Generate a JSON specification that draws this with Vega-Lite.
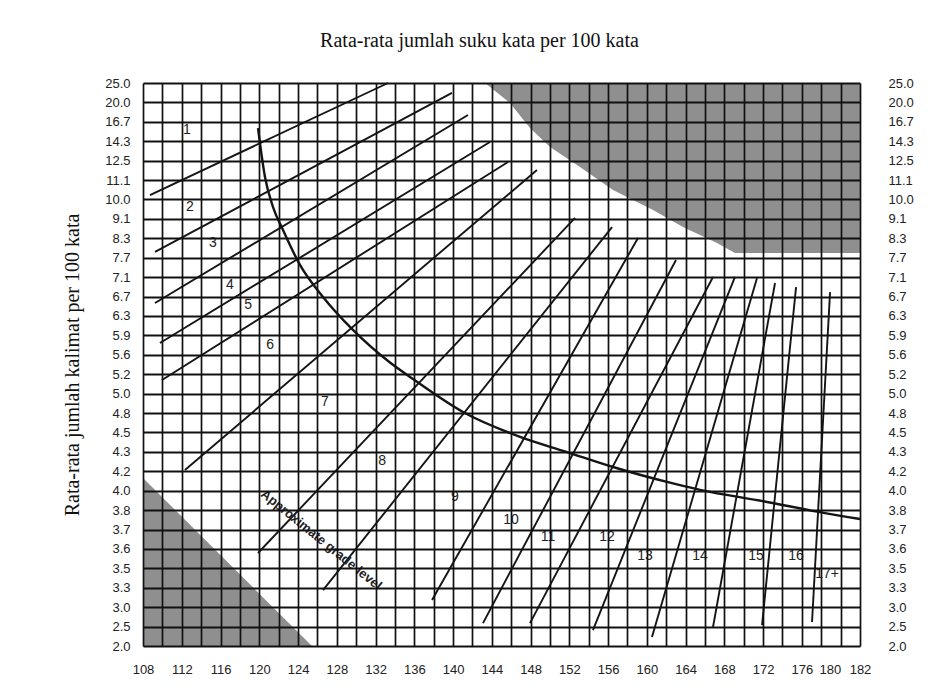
{
  "$schema": "https://vega.github.io/schema/vega-lite/v6.json",
  "autosize": {"type": "none"},
  "width": 717,
  "height": 563,
  "padding": {"left": 143, "top": 83, "right": 87, "bottom": 53},
  "background": "white",
  "title": {"text": "Rata-rata jumlah suku kata per 100 kata", "font": "Liberation Serif", "fontSize": 20, "fontWeight": "normal", "color": "#111", "offset": 26, "dx": -22, "anchor": "middle"},
  "config": {"view": {"stroke": null}},
  "datasets": {
    "lines": [
      {"g": "L1", "x": 108.72, "y": 23.23}, {"g": "L1", "x": 133.29, "y": 29.0},
      {"g": "L2", "x": 109.24, "y": 20.30}, {"g": "L2", "x": 139.89, "y": 28.49},
      {"g": "L3", "x": 109.24, "y": 17.67}, {"g": "L3", "x": 141.54, "y": 27.35},
      {"g": "L4", "x": 109.75, "y": 15.61}, {"g": "L4", "x": 143.81, "y": 25.96},
      {"g": "L5", "x": 109.96, "y": 13.70}, {"g": "L5", "x": 145.67, "y": 24.93},
      {"g": "L6", "x": 112.33, "y": 9.07}, {"g": "L6", "x": 148.66, "y": 24.52},
      {"g": "L7", "x": 119.87, "y": 4.79}, {"g": "L7", "x": 152.59, "y": 22.05},
      {"g": "L8", "x": 126.58, "y": 2.88}, {"g": "L8", "x": 156.41, "y": 21.58},
      {"g": "L9", "x": 137.83, "y": 2.37}, {"g": "L9", "x": 159.09, "y": 21.02},
      {"g": "L10", "x": 143.09, "y": 1.18}, {"g": "L10", "x": 163.01, "y": 19.88},
      {"g": "L11", "x": 147.94, "y": 1.18}, {"g": "L11", "x": 166.83, "y": 19.01},
      {"g": "L12", "x": 154.44, "y": 0.82}, {"g": "L12", "x": 169.10, "y": 19.01},
      {"g": "L13", "x": 160.53, "y": 0.46}, {"g": "L13", "x": 171.37, "y": 18.96},
      {"g": "L14", "x": 166.83, "y": 0.98}, {"g": "L14", "x": 173.23, "y": 18.70},
      {"g": "L15", "x": 171.89, "y": 1.08}, {"g": "L15", "x": 175.40, "y": 18.49},
      {"g": "L16", "x": 177.05, "y": 1.24}, {"g": "L16", "x": 178.91, "y": 18.23}
    ],
    "curve": [
      {"x": 119.87, "y": 26.68}, {"x": 120.59, "y": 24.16}, {"x": 121.42, "y": 22.61},
      {"x": 122.45, "y": 21.43}, {"x": 124.20, "y": 19.63}, {"x": 126.58, "y": 17.98},
      {"x": 129.67, "y": 16.28}, {"x": 133.49, "y": 14.60}, {"x": 135.87, "y": 13.75},
      {"x": 141.03, "y": 12.05}, {"x": 146.91, "y": 10.77}, {"x": 151.76, "y": 9.99},
      {"x": 156.51, "y": 9.22}, {"x": 162.08, "y": 8.45}, {"x": 165.49, "y": 8.04},
      {"x": 172.40, "y": 7.42}, {"x": 177.56, "y": 6.92}, {"x": 182.0, "y": 6.54}
    ],
    "hatchTop": [
      {"x": 143.30, "y": 29.0}, {"x": 145.88, "y": 27.97}, {"x": 147.94, "y": 26.68},
      {"x": 150.01, "y": 25.70}, {"x": 153.10, "y": 24.67}, {"x": 156.51, "y": 23.49},
      {"x": 160.64, "y": 22.46}, {"x": 163.73, "y": 21.58}, {"x": 167.24, "y": 20.76},
      {"x": 169.10, "y": 20.24}, {"x": 182.0, "y": 20.24}
    ],
    "hatchBottom": [
      {"x": 108.0, "y": 8.65}, {"x": 125.44, "y": 0.0}
    ],
    "labels": [
      {"t": "1", "x": 112.54, "y": 26.58}, {"t": "2", "x": 112.85, "y": 22.61},
      {"t": "3", "x": 115.22, "y": 20.76}, {"t": "4", "x": 116.98, "y": 18.60},
      {"t": "5", "x": 118.84, "y": 17.56}, {"t": "6", "x": 121.11, "y": 15.50},
      {"t": "7", "x": 126.78, "y": 12.57}, {"t": "8", "x": 132.67, "y": 9.53},
      {"t": "9", "x": 140.20, "y": 7.67}, {"t": "10", "x": 145.98, "y": 6.49},
      {"t": "11", "x": 149.80, "y": 5.61}, {"t": "12", "x": 155.89, "y": 5.61},
      {"t": "13", "x": 159.81, "y": 4.64}, {"t": "14", "x": 165.49, "y": 4.64},
      {"t": "15", "x": 171.27, "y": 4.64}, {"t": "16", "x": 175.40, "y": 4.64},
      {"t": "17+", "x": 178.60, "y": 3.71}
    ],
    "note": [
      {"t": "Approximate grade level", "x": 126.4, "y": 5.46}
    ]
  },
  "layer": [
    {
      "encoding": {
        "x": {"field": "x", "type": "quantitative", "scale": {"domain": [108, 182], "nice": false, "zero": false},
          "axis": {"values": [108,110,112,114,116,118,120,122,124,126,128,130,132,134,136,138,140,142,144,146,148,150,152,154,156,158,160,162,164,166,168,170,172,174,176,178,180,182],
            "labelExpr": "(datum.value % 4 == 0 || datum.value == 182) ? datum.value : ''",
            "title": null, "grid": true, "gridColor": "#111", "gridWidth": 1.7, "gridOpacity": 1,
            "domain": false, "ticks": false, "labelPadding": 17, "labelFont": "Liberation Sans", "labelFontSize": 13,
            "labelColor": "#222", "labelOverlap": false, "labelFlush": false,
            "labelAlign": {"condition": {"test": "datum.value == 180", "value": "right"}, "value": "center"},
            "zindex": 1}},
        "y": {"field": "y", "type": "quantitative", "scale": {"domain": [0, 29], "nice": false, "zero": false},
          "axis": {"orient": "left", "values": [0,1,2,3,4,5,6,7,8,9,10,11,12,13,14,15,16,17,18,19,20,21,22,23,24,25,26,27,28,29],
            "labelExpr": "['2.0','2.5','3.0','3.3','3.5','3.6','3.7','3.8','4.0','4.2','4.3','4.5','4.8','5.0','5.2','5.6','5.9','6.3','6.7','7.1','7.7','8.3','9.1','10.0','11.1','12.5','14.3','16.7','20.0','25.0'][datum.value]",
            "title": "Rata-rata jumlah kalimat per 100 kata", "titleFont": "Liberation Serif", "titleFontSize": 20, "titleFontWeight": "normal", "titleColor": "#111", "titlePadding": 22,
            "grid": true, "gridColor": "#111", "gridWidth": 2, "gridOpacity": 1,
            "domain": false, "ticks": false, "labelPadding": 13, "labelFont": "Liberation Sans", "labelFontSize": 13, "labelColor": "#222", "labelOverlap": false, "labelFlush": false,
            "zindex": 1}}
      },
      "layer": [
        {
          "data": {"name": "hatchTop"},
          "mark": {"type": "area", "color": "#8f8f8f", "opacity": 1},
          "encoding": {"y2": {"datum": 29}}
        },
        {
          "data": {"name": "hatchBottom"},
          "mark": {"type": "area", "color": "#8f8f8f", "opacity": 1},
          "encoding": {"y2": {"datum": 0}}
        },
        {
          "data": {"name": "lines"},
          "mark": {"type": "line", "color": "#151515", "strokeWidth": 1.9},
          "encoding": {"detail": {"field": "g"}}
        },
        {
          "data": {"name": "curve"},
          "mark": {"type": "line", "color": "#151515", "strokeWidth": 2.4, "interpolate": "monotone"}
        },
        {
          "data": {"name": "labels"},
          "mark": {"type": "text", "font": "Liberation Sans", "fontSize": 14, "color": "#222", "align": "center", "baseline": "middle"},
          "encoding": {"text": {"field": "t"}}
        },
        {
          "data": {"name": "note"},
          "mark": {"type": "text", "font": "Liberation Sans", "fontSize": 13, "fontWeight": "bold", "color": "#222", "align": "center", "baseline": "middle", "angle": 39},
          "encoding": {"text": {"field": "t"}}
        }
      ]
    },
    {
      "data": {"name": "curve"},
      "mark": {"type": "line", "opacity": 0},
      "encoding": {
        "x": {"field": "x", "type": "quantitative", "scale": {"domain": [108, 182], "nice": false, "zero": false}, "axis": null},
        "y": {"field": "y", "type": "quantitative", "scale": {"domain": [0, 29], "nice": false, "zero": false},
          "axis": {"orient": "right", "values": [0,1,2,3,4,5,6,7,8,9,10,11,12,13,14,15,16,17,18,19,20,21,22,23,24,25,26,27,28,29],
            "labelExpr": "['2.0','2.5','3.0','3.3','3.5','3.6','3.7','3.8','4.0','4.2','4.3','4.5','4.8','5.0','5.2','5.6','5.9','6.3','6.7','7.1','7.7','8.3','9.1','10.0','11.1','12.5','14.3','16.7','20.0','25.0'][datum.value]",
            "title": null, "grid": false, "domain": false, "ticks": false, "labelPadding": 28,
            "labelFont": "Liberation Sans", "labelFontSize": 13, "labelColor": "#222", "labelOverlap": false, "labelFlush": false}}
      }
    }
  ],
  "resolve": {"axis": {"x": "independent", "y": "independent"}}
}
